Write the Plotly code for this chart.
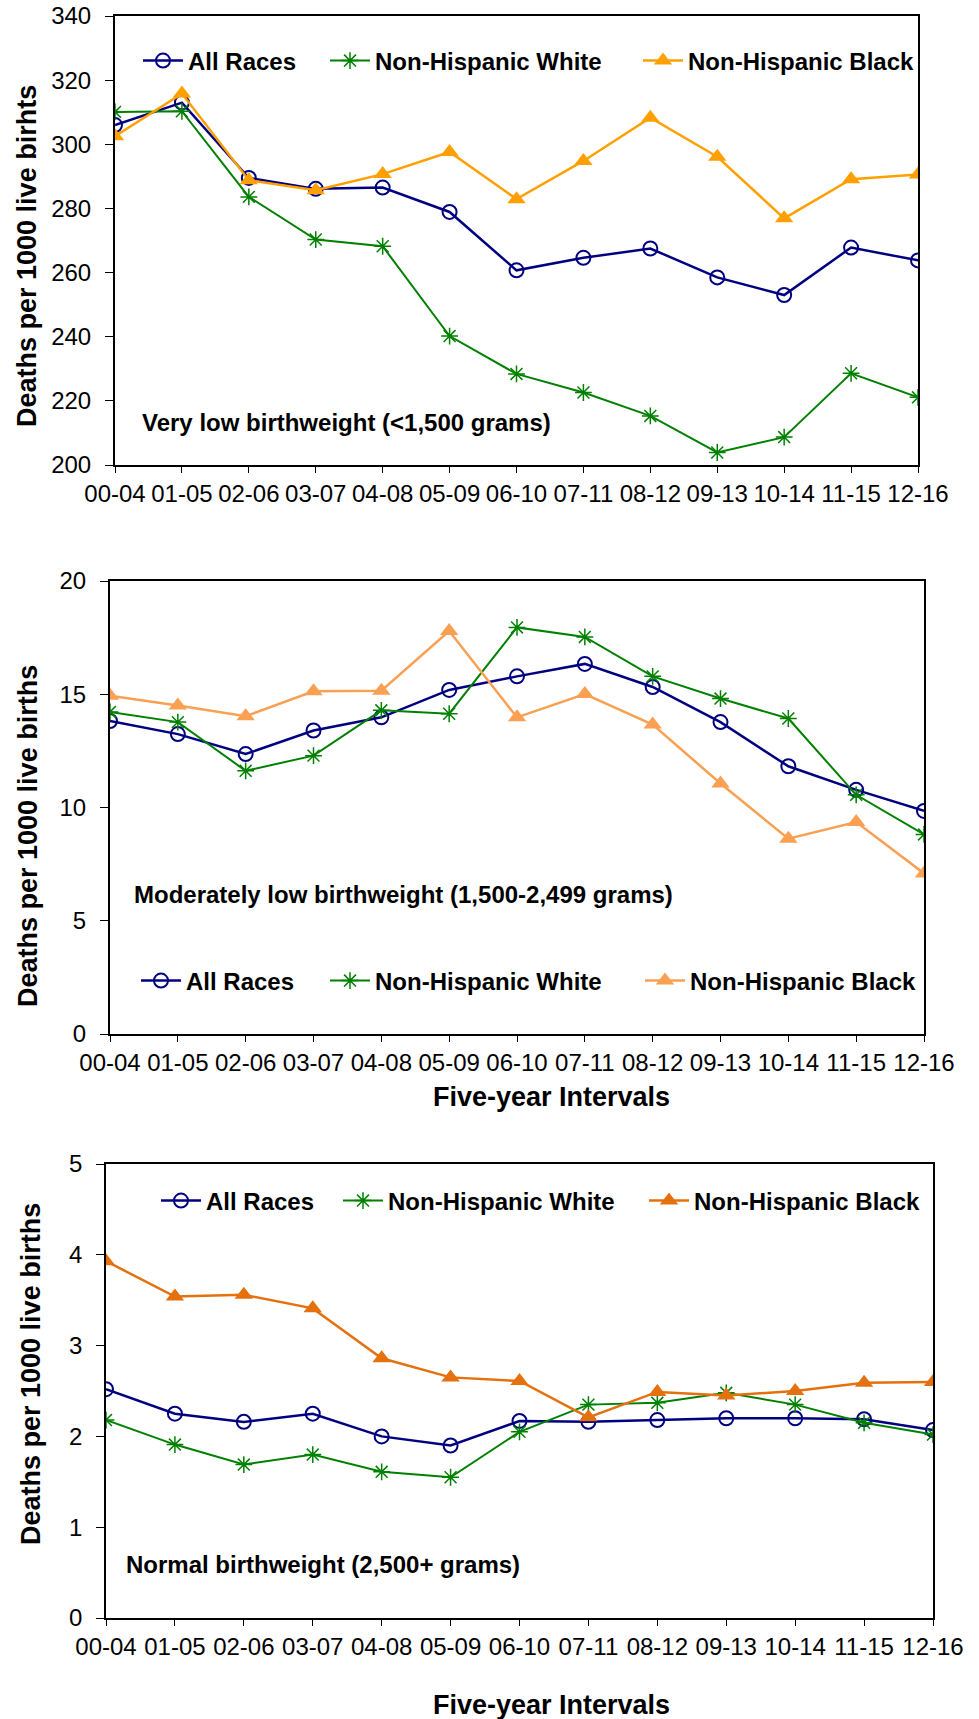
import plotly.graph_objects as go

W, H = 979, 1719

intervals = ["00-04", "01-05", "02-06", "03-07", "04-08", "05-09", "06-10",
             "07-11", "08-12", "09-13", "10-14", "11-15", "12-16"]

# Panel 1: Very low birthweight (<1,500 grams)
vlbw_all = [306.0, 313.0, 289.5, 286.1, 286.5, 278.9, 260.7, 264.6, 267.5, 258.5, 253.0, 267.8, 263.8]
vlbw_white = [310.1, 310.3, 283.6, 270.3, 268.2, 240.2, 228.4, 222.6, 215.3, 203.9, 208.7, 228.6, 221.1]
vlbw_black = [302.5, 315.8, 288.8, 285.7, 290.7, 297.6, 282.9, 294.8, 308.3, 296.1, 276.9, 289.1, 290.6]

# Panel 2: Moderately low birthweight (1,500-2,499 grams)
mlbw_all = [13.82, 13.24, 12.36, 13.40, 13.98, 15.19, 15.79, 16.34, 15.32, 13.77, 11.82, 10.78, 9.85]
mlbw_white = [14.22, 13.77, 11.62, 12.29, 14.29, 14.14, 17.95, 17.53, 15.79, 14.81, 13.93, 10.56, 8.81]
mlbw_black = [14.93, 14.50, 14.03, 15.13, 15.16, 17.79, 13.98, 15.01, 13.66, 11.06, 8.62, 9.36, 7.09]

# Panel 3: Normal birthweight (2,500+ grams)
nbw_all = [2.52, 2.25, 2.16, 2.25, 2.00, 1.90, 2.17, 2.16, 2.18, 2.20, 2.20, 2.19, 2.07]
nbw_white = [2.18, 1.91, 1.69, 1.80, 1.61, 1.55, 2.05, 2.35, 2.37, 2.48, 2.35, 2.15, 2.02]
nbw_black = [3.93, 3.54, 3.56, 3.41, 2.86, 2.65, 2.61, 2.21, 2.49, 2.45, 2.50, 2.59, 2.60]

series_names = ["All Races", "Non-Hispanic White", "Non-Hispanic Black"]
panel_titles = ["Very low birthweight (<1,500 grams)",
                "Moderately low birthweight (1,500-2,499 grams)",
                "Normal birthweight (2,500+ grams)"]
y_titles = ["Deaths per 1000 live birhts", "Deaths per 1000 live births", "Deaths per 1000 live births"]
x_title = "Five-year Intervals"
y_ranges = [(200, 340, 20), (0, 20, 5), (0, 5, 1)]

FONT = "Liberation Sans, Arial, sans-serif"
BLUE = "#000080"
GREEN = "#008000"
black_colors = ["#FFA000", "#F9A053", "#E4700E"]

# page pixel boxes: left, right, top, bottom
boxes = [(115, 918, 16, 465), (110, 924, 581, 1034), (106, 933, 1164, 1618)]
# legend text start x for each series, and legend row center y
legend_text_x = [(187, 374, 687), (185, 374, 689), (205, 387, 693)]
legend_y = [61, 981, 1201]
ann_pos = [(140, 423), (132, 894), (124, 1564)]
ytitle_pos = [(27, 256), (28, 836), (31, 1374)]
xtitle_pos = [None, (551, 1097), (551, 1705)]


def fx(x):
    return x / W


def fy(y):
    return 1 - y / H


data = [(vlbw_all, vlbw_white, vlbw_black),
        (mlbw_all, mlbw_white, mlbw_black),
        (nbw_all, nbw_white, nbw_black)]

fig = go.Figure()
annotations = []
layout = dict(width=W, height=H, margin=dict(l=0, r=0, t=0, b=0, autoexpand=False),
              plot_bgcolor="white", paper_bgcolor="white", font=dict(family=FONT, color="black"))

for i in range(3):
    n = "" if i == 0 else str(i + 1)
    xa, ya = "x" + n, "y" + n
    vals = data[i]
    lw = 1.5 if i == 2 else 2
    styles = [
        dict(line=dict(color=BLUE, width=2.5),
             marker=dict(symbol="circle-open", size=14, color=BLUE, line=dict(width=2))),
        dict(line=dict(color=GREEN, width=2),
             marker=dict(symbol="asterisk-open", size=14, color=GREEN, line=dict(width=1.5, color=GREEN))),
        dict(line=dict(color=black_colors[i], width=2.5),
             marker=dict(symbol="triangle-up", size=16, color=black_colors[i])),
    ]
    for j in range(3):
        k = 3 * i + j
        lg = "legend" + str(k + 2)
        fig.add_trace(go.Scatter(x=intervals, y=vals[j], name=series_names[j], mode="lines+markers",
                                 xaxis=xa, yaxis=ya, legend=lg, **styles[j]))
        layout[lg] = dict(orientation="h", x=fx(legend_text_x[i][j] - 49), y=fy(legend_y[i]),
                          xanchor="left", yanchor="middle", bgcolor="rgba(0,0,0,0)",
                          font=dict(size=24, family=FONT, color="black", weight="bold"),
                          itemwidth=40)
    l, r, t, btm = boxes[i]
    lo, hi, dt = y_ranges[i]
    layout["xaxis" + n] = dict(domain=[fx(l), fx(r)], anchor=ya, type="category", range=[0, 12],
                               automargin=False, ticklabeloverflow="allow",
                               showline=True, linecolor="black", linewidth=lw, mirror=True,
                               ticks="outside", ticklen=6, tickwidth=1.2, tickcolor="black",
                               showgrid=False, zeroline=False,
                               tickfont=dict(size=24, family=FONT, color="black"))
    layout["yaxis" + n] = dict(domain=[fy(btm), fy(t)], anchor=xa, range=[lo, hi], dtick=dt,
                               tick0=lo, automargin=False, ticklabeloverflow="allow",
                               ticklabelstandoff=9,
                               showline=True, linecolor="black", linewidth=lw, mirror=True,
                               ticks="outside", ticklen=8, tickwidth=1.2, tickcolor="black",
                               showgrid=False, zeroline=False,
                               tickfont=dict(size=24, family=FONT, color="black"))
    ax, ay = ann_pos[i]
    annotations.append(dict(text="<b>" + panel_titles[i] + "</b>", x=fx(ax), y=fy(ay),
                            xref="paper", yref="paper", xanchor="left", yanchor="middle",
                            showarrow=False, font=dict(size=24, family=FONT, color="black")))
    tx, ty = ytitle_pos[i]
    annotations.append(dict(text="<b>" + y_titles[i] + "</b>", x=fx(tx), y=fy(ty),
                            xref="paper", yref="paper", xanchor="center", yanchor="middle",
                            textangle=-90, showarrow=False, font=dict(size=27, family=FONT, color="black")))
    if xtitle_pos[i]:
        px, py = xtitle_pos[i]
        annotations.append(dict(text="<b>" + x_title + "</b>", x=fx(px), y=fy(py),
                                xref="paper", yref="paper", xanchor="center", yanchor="middle",
                                showarrow=False, font=dict(size=27, family=FONT, color="black")))

layout["annotations"] = annotations
layout["showlegend"] = True
fig.update_layout(**layout)
fig.write_html("out.html", config={"displayModeBar": False},
               post_script="document.body.style.margin='0px';document.body.style.overflow='hidden';")
